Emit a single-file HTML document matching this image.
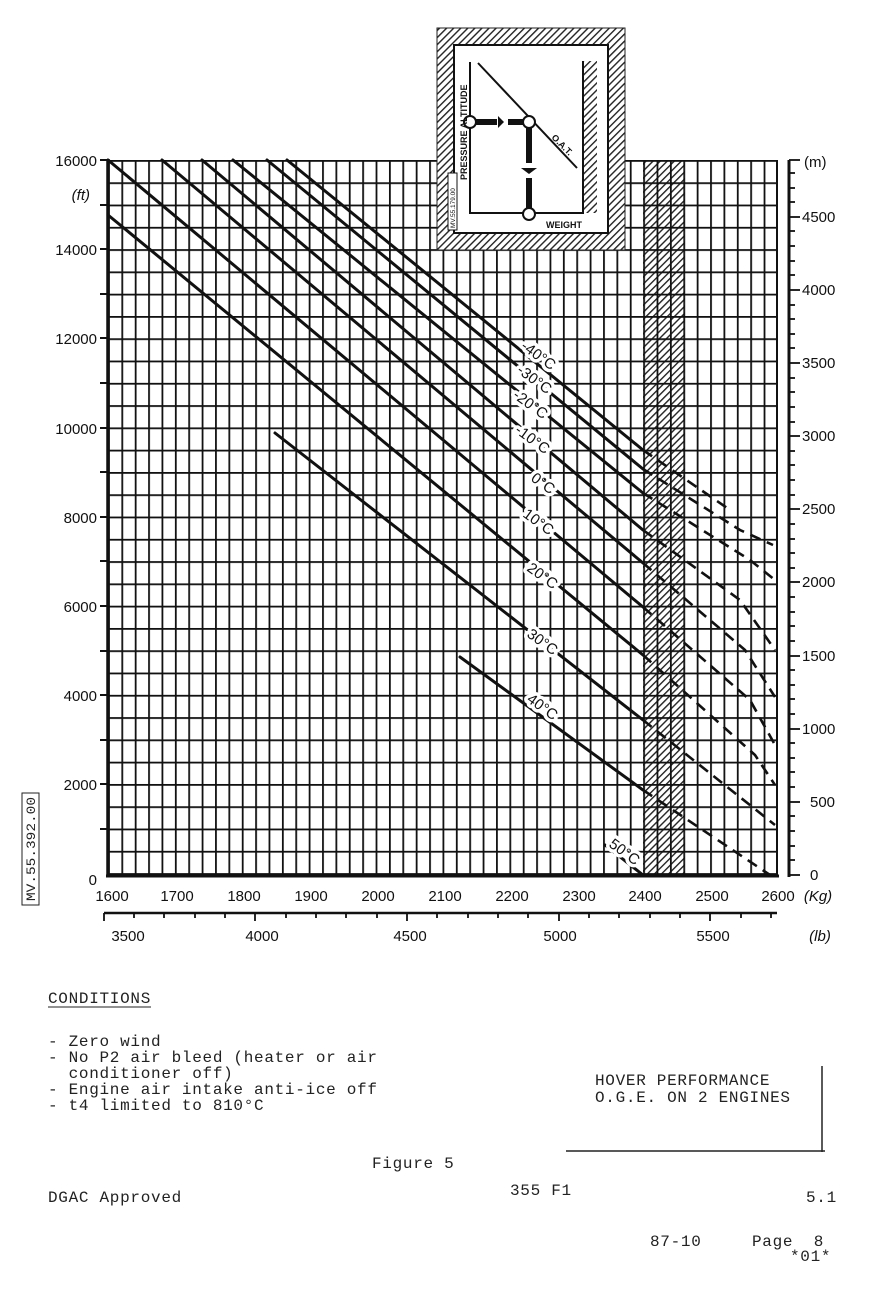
<!DOCTYPE html>
<html><head><meta charset="utf-8"><style>
body{margin:0;background:#fff;width:894px;height:1305px;overflow:hidden}
svg{display:block}
.n{font-family:"Liberation Sans",sans-serif;font-size:15px;fill:#111}
.m{font-family:"Liberation Mono",monospace;font-size:16px;letter-spacing:0.7px;fill:#222;white-space:pre}
.t{paint-order:stroke;stroke:#fff;stroke-width:7px;stroke-linejoin:round}
</style></head><body>
<svg width="894" height="1305" viewBox="0 0 894 1305" xmlns="http://www.w3.org/2000/svg">
<defs>
<pattern id="gv" x="108" y="0" width="13.38" height="10" patternUnits="userSpaceOnUse"><rect x="0" y="0" width="1.8" height="10" fill="#111"/></pattern>
<pattern id="gh" x="0" y="160" width="10" height="22.285" patternUnits="userSpaceOnUse"><rect x="0" y="0" width="10" height="1.8" fill="#111"/></pattern>
<pattern id="hat" width="5" height="5" patternUnits="userSpaceOnUse" patternTransform="rotate(45)"><rect width="1.4" height="5" fill="#222"/></pattern>
</defs>
<rect x="643" y="160" width="42" height="715" fill="url(#hat)"/>
<rect x="108" y="160" width="670" height="715" fill="url(#gv)"/>
<rect x="108" y="160" width="670" height="716" fill="url(#gh)"/>
<line x1="108" y1="159" x2="108" y2="877" stroke="#111" stroke-width="3.5"/>
<line x1="106" y1="876" x2="779" y2="876" stroke="#111" stroke-width="3"/>
<line x1="777" y1="160" x2="777" y2="876" stroke="#111" stroke-width="2"/>
<line x1="789" y1="160" x2="789" y2="877" stroke="#111" stroke-width="3"/>
<g stroke="#111" stroke-width="2">
<line x1="100" y1="160" x2="108" y2="160"/><line x1="100" y1="205" x2="108" y2="205"/><line x1="100" y1="249" x2="108" y2="249"/><line x1="100" y1="294" x2="108" y2="294"/><line x1="100" y1="338" x2="108" y2="338"/><line x1="100" y1="383" x2="108" y2="383"/><line x1="100" y1="428" x2="108" y2="428"/><line x1="100" y1="472" x2="108" y2="472"/><line x1="100" y1="517" x2="108" y2="517"/><line x1="100" y1="561" x2="108" y2="561"/><line x1="100" y1="606" x2="108" y2="606"/><line x1="100" y1="651" x2="108" y2="651"/><line x1="100" y1="695" x2="108" y2="695"/><line x1="100" y1="740" x2="108" y2="740"/><line x1="100" y1="784" x2="108" y2="784"/><line x1="100" y1="829" x2="108" y2="829"/>
</g>
<g class="n" text-anchor="end">
<text x="97" y="166">16000</text><text x="97" y="255">14000</text><text x="97" y="344">12000</text><text x="97" y="434">10000</text><text x="97" y="523">8000</text><text x="97" y="612">6000</text><text x="97" y="701">4000</text><text x="97" y="790">2000</text><text x="97" y="885">0</text>
<text x="90" y="200" font-style="italic">(ft)</text>
</g>
<g stroke="#111" stroke-width="1.8">
<line x1="789" y1="875" x2="800" y2="875"/><line x1="789" y1="860" x2="795" y2="860"/><line x1="789" y1="846" x2="795" y2="846"/><line x1="789" y1="831" x2="795" y2="831"/><line x1="789" y1="816" x2="795" y2="816"/><line x1="789" y1="802" x2="800" y2="802"/><line x1="789" y1="787" x2="795" y2="787"/><line x1="789" y1="772" x2="795" y2="772"/><line x1="789" y1="758" x2="795" y2="758"/><line x1="789" y1="743" x2="795" y2="743"/><line x1="789" y1="729" x2="800" y2="729"/><line x1="789" y1="714" x2="795" y2="714"/><line x1="789" y1="699" x2="795" y2="699"/><line x1="789" y1="685" x2="795" y2="685"/><line x1="789" y1="670" x2="795" y2="670"/><line x1="789" y1="656" x2="800" y2="656"/><line x1="789" y1="641" x2="795" y2="641"/><line x1="789" y1="626" x2="795" y2="626"/><line x1="789" y1="612" x2="795" y2="612"/><line x1="789" y1="597" x2="795" y2="597"/><line x1="789" y1="582" x2="800" y2="582"/><line x1="789" y1="568" x2="795" y2="568"/><line x1="789" y1="553" x2="795" y2="553"/><line x1="789" y1="539" x2="795" y2="539"/><line x1="789" y1="524" x2="795" y2="524"/><line x1="789" y1="509" x2="800" y2="509"/><line x1="789" y1="495" x2="795" y2="495"/><line x1="789" y1="480" x2="795" y2="480"/><line x1="789" y1="465" x2="795" y2="465"/><line x1="789" y1="451" x2="795" y2="451"/><line x1="789" y1="436" x2="800" y2="436"/><line x1="789" y1="422" x2="795" y2="422"/><line x1="789" y1="407" x2="795" y2="407"/><line x1="789" y1="392" x2="795" y2="392"/><line x1="789" y1="378" x2="795" y2="378"/><line x1="789" y1="363" x2="800" y2="363"/><line x1="789" y1="348" x2="795" y2="348"/><line x1="789" y1="334" x2="795" y2="334"/><line x1="789" y1="319" x2="795" y2="319"/><line x1="789" y1="305" x2="795" y2="305"/><line x1="789" y1="290" x2="800" y2="290"/><line x1="789" y1="275" x2="795" y2="275"/><line x1="789" y1="261" x2="795" y2="261"/><line x1="789" y1="246" x2="795" y2="246"/><line x1="789" y1="231" x2="795" y2="231"/><line x1="789" y1="217" x2="800" y2="217"/><line x1="789" y1="202" x2="795" y2="202"/><line x1="789" y1="188" x2="795" y2="188"/><line x1="789" y1="173" x2="795" y2="173"/><line x1="789" y1="160" x2="800" y2="160"/>
</g>
<g class="n">
<text x="804" y="167">(m)</text><text x="802" y="222">4500</text><text x="802" y="295">4000</text><text x="802" y="368">3500</text><text x="802" y="441">3000</text><text x="802" y="514">2500</text><text x="802" y="587">2000</text><text x="802" y="661">1500</text><text x="810" y="807">500</text><text x="802" y="734">1000</text><text x="810" y="880">0</text>
</g>
<g class="n" text-anchor="middle">
<text x="112" y="901">1600</text><text x="177" y="901">1700</text><text x="244" y="901">1800</text><text x="311" y="901">1900</text><text x="378" y="901">2000</text><text x="445" y="901">2100</text><text x="512" y="901">2200</text><text x="579" y="901">2300</text><text x="645" y="901">2400</text><text x="712" y="901">2500</text><text x="778" y="901">2600</text>
<text x="818" y="901" font-style="italic">(Kg)</text>
</g>
<line x1="104" y1="913" x2="777" y2="913" stroke="#111" stroke-width="2.5"/>
<g stroke="#111" stroke-width="1.8">
<line x1="104" y1="913" x2="104" y2="921"/><line x1="134" y1="913" x2="134" y2="918"/><line x1="164" y1="913" x2="164" y2="918"/><line x1="195" y1="913" x2="195" y2="918"/><line x1="225" y1="913" x2="225" y2="918"/><line x1="255" y1="913" x2="255" y2="921"/><line x1="286" y1="913" x2="286" y2="918"/><line x1="316" y1="913" x2="316" y2="918"/><line x1="346" y1="913" x2="346" y2="918"/><line x1="377" y1="913" x2="377" y2="918"/><line x1="407" y1="913" x2="407" y2="921"/><line x1="437" y1="913" x2="437" y2="918"/><line x1="468" y1="913" x2="468" y2="918"/><line x1="498" y1="913" x2="498" y2="918"/><line x1="528" y1="913" x2="528" y2="918"/><line x1="559" y1="913" x2="559" y2="921"/><line x1="589" y1="913" x2="589" y2="918"/><line x1="619" y1="913" x2="619" y2="918"/><line x1="650" y1="913" x2="650" y2="918"/><line x1="680" y1="913" x2="680" y2="918"/><line x1="710" y1="913" x2="710" y2="921"/><line x1="741" y1="913" x2="741" y2="918"/><line x1="771" y1="913" x2="771" y2="918"/>
</g>
<g class="n" text-anchor="middle">
<text x="128" y="941">3500</text><text x="262" y="941">4000</text><text x="410" y="941">4500</text><text x="560" y="941">5000</text><text x="713" y="941">5500</text>
<text x="820" y="941" font-style="italic">(lb)</text>
</g>
<g stroke="#111" stroke-width="3" fill="none" stroke-linecap="round">
<line x1="287" y1="160" x2="643" y2="450"/>
<line x1="267" y1="160" x2="643" y2="469"/>
<line x1="233" y1="160" x2="643" y2="493"/>
<line x1="202" y1="160" x2="643" y2="530"/>
<line x1="162" y1="160" x2="643" y2="563"/>
<line x1="108" y1="160" x2="643" y2="607"/>
<line x1="108" y1="215" x2="643" y2="655"/>
<line x1="275" y1="433" x2="643" y2="720"/>
<line x1="460" y1="657" x2="643" y2="790"/>
<line x1="605" y1="845" x2="643" y2="875"/>
</g>
<g stroke="#111" stroke-width="2.6" fill="none" stroke-dasharray="11,7">
<polyline points="643,450 730,510"/>
<polyline points="643,469 740,530 773,545"/>
<polyline points="643,493 750,560 775,580"/>
<polyline points="643,530 740,600 775,650"/>
<polyline points="643,563 745,650 775,697"/>
<polyline points="643,607 750,700 775,745"/>
<polyline points="643,655 755,755 775,785"/>
<polyline points="643,720 775,825"/>
<polyline points="643,790 770,875"/>
</g>
<g class="n t" font-size="16">
<text transform="translate(520,348) rotate(36)">-40°C</text>
<text transform="translate(516,372) rotate(36)">-30°C</text>
<text transform="translate(512,397) rotate(36)">-20°C</text>
<text transform="translate(514,432) rotate(36)">-10°C</text>
<text transform="translate(530,480) rotate(36)">0°C</text>
<text transform="translate(522,516) rotate(36)">10°C</text>
<text transform="translate(526,570) rotate(36)">20°C</text>
<text transform="translate(526,636) rotate(36)">30°C</text>
<text transform="translate(526,701) rotate(36)">40°C</text>
<text transform="translate(608,846) rotate(36)">50°C</text>
</g>
<!-- inset -->
<rect x="437" y="28" width="188" height="222" fill="#fff"/>
<rect x="437" y="28" width="188" height="222" fill="url(#hat)" stroke="#222" stroke-width="1"/>
<rect x="454" y="45" width="154" height="188" fill="#fff" stroke="#111" stroke-width="2"/>
<rect x="583" y="61" width="14" height="152" fill="url(#hat)"/>
<line x1="583" y1="61" x2="583" y2="213" stroke="#111" stroke-width="2"/>
<line x1="470" y1="62" x2="470" y2="214" stroke="#111" stroke-width="2"/>
<line x1="470" y1="213" x2="584" y2="213" stroke="#111" stroke-width="2"/>
<line x1="478" y1="63" x2="577" y2="168" stroke="#111" stroke-width="2"/>
<line x1="476" y1="122" x2="497" y2="122" stroke="#111" stroke-width="6"/>
<line x1="508" y1="122" x2="524" y2="122" stroke="#111" stroke-width="6"/>
<polygon points="498,116 504,122 498,128" fill="#111"/>
<line x1="529" y1="128" x2="529" y2="163" stroke="#111" stroke-width="6"/>
<line x1="529" y1="178" x2="529" y2="208" stroke="#111" stroke-width="6"/>
<polygon points="521,168 537,168 529,174" fill="#111"/>
<circle cx="470" cy="122" r="6" fill="#fff" stroke="#111" stroke-width="2"/>
<circle cx="529" cy="122" r="6" fill="#fff" stroke="#111" stroke-width="2"/>
<circle cx="529" cy="214" r="6" fill="#fff" stroke="#111" stroke-width="2"/>
<text transform="translate(467,180) rotate(-90)" font-family="Liberation Sans,sans-serif" font-size="9" font-weight="bold" fill="#111">PRESSURE  ALTITUDE</text>
<text transform="translate(551,138) rotate(45)" font-family="Liberation Sans,sans-serif" font-size="9" font-weight="bold" fill="#111">O.A.T.</text>
<text x="546" y="228" font-family="Liberation Sans,sans-serif" font-size="9" font-weight="bold" fill="#111">WEIGHT</text>
<rect x="448" y="173" width="9" height="57" fill="#fff" stroke="#111" stroke-width="1"/>
<text transform="translate(455,228) rotate(-90)" font-family="Liberation Sans,sans-serif" font-size="6.5" fill="#111">MV.55.179.00</text>
<rect x="22" y="793" width="17" height="112" fill="none" stroke="#222" stroke-width="1"/>
<text transform="translate(35,901) rotate(-90)" font-family="Liberation Mono,monospace" font-size="13" fill="#222" textLength="104" lengthAdjust="spacingAndGlyphs">MV.55.392.00</text>
<g class="m">
<text x="48" y="1003">CONDITIONS</text>
<text x="48" y="1046">- Zero wind</text>
<text x="48" y="1062">- No P2 air bleed (heater or air</text>
<text x="48" y="1078" xml:space="preserve">  conditioner off)</text>
<text x="48" y="1094">- Engine air intake anti-ice off</text>
<text x="48" y="1110">- t4 limited to 810°C</text>
<text x="595" y="1085">HOVER PERFORMANCE</text>
<text x="595" y="1102">O.G.E. ON 2 ENGINES</text>
<text x="372" y="1168">Figure 5</text>
<text x="48" y="1202">DGAC Approved</text>
<text x="510" y="1195">355 F1</text>
<text x="806" y="1202">5.1</text>
<text x="650" y="1246">87-10</text>
<text x="752" y="1246" xml:space="preserve">Page  8</text>
<text x="790" y="1261">*01*</text>
</g>
<line x1="48" y1="1007" x2="151" y2="1007" stroke="#222" stroke-width="1"/>
<line x1="822" y1="1066" x2="822" y2="1152" stroke="#222" stroke-width="1.5"/>
<line x1="566" y1="1151" x2="825" y2="1151" stroke="#222" stroke-width="1.5"/>
</svg>
</body></html>
